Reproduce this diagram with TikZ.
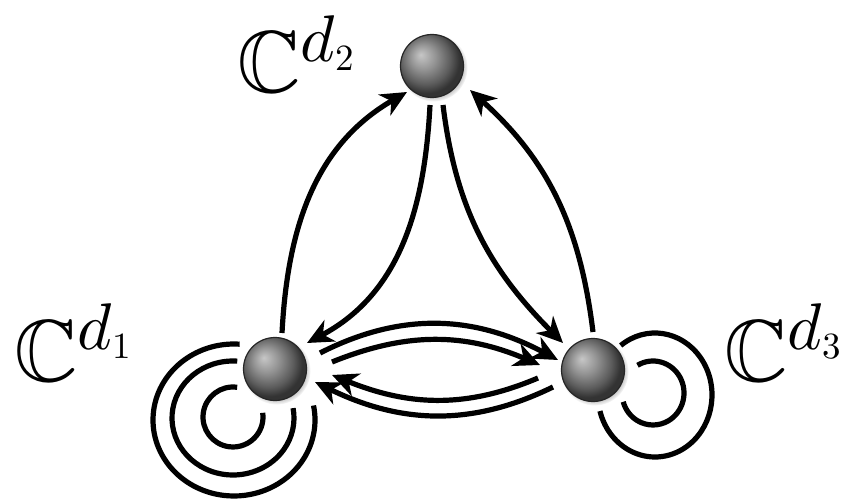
\documentclass[tikz,border=0pt]{standalone}
\usepackage{amssymb}
\usetikzlibrary{arrows.meta,calc,shadows}
\DeclareFontShape{OML}{cmm}{m}{it}{<->cmmi10}{}
\DeclareFontShape{OMS}{cmsy}{m}{n}{<->cmsy10}{}
\DeclareFontShape{OT1}{cmr}{m}{n}{<->cmr10}{}
\DeclareMathSizes{88}{88}{66}{37}
\pgfdeclareradialshading{myball}{\pgfpoint{-9bp}{9bp}}{color(0bp)=(black!22); color(10bp)=(black!42); color(20bp)=(black!64); color(26bp)=(black!80); color(50bp)=(black!80)}
\tikzset{
  ball/.style={circle, minimum size=63pt, inner sep=0pt, shading=myball, draw=black!85, line width=1.2pt,
    circular drop shadow={shadow xshift=1.5pt,shadow yshift=-1.5pt,shadow scale=1.08,opacity=0.45}},
  conn/.style={line width=5.2pt, arrows={-Stealth[length=26pt,width=24pt,inset=8pt]}},
  loopline/.style={line width=5.2pt},
  lab/.style={inner sep=0pt, anchor=base west, font=\fontsize{88}{88}\selectfont}}
\begin{document}
\begin{tikzpicture}[x=1pt,y=1pt]
\useasboundingbox (0,0) rectangle (865,499);
% nodes
\node[ball] (c1) at (275,130) {};
\node[ball] (c2) at (432,433) {};
\node[ball] (c3) at (593,129) {};
% labels
\node[lab] (l1) at (14,118) {$\mathbb{C}^{d_1}$};
\node[lab] (l2) at (237,406) {$\mathbb{C}^{d_2}$};
\node[lab] (l3) at (724,118) {$\mathbb{C}^{d_3}$};
% edges between C1 and C2
\draw[conn] ($(c1)+(7,36)$) to[out=87,in=210] ($(c2)+(-25,-26)$);
\draw[conn] ($(c2)+(-2,-39)$) to[out=267,in=28] ($(c1)+(32,26)$);
% edges between C2 and C3
\draw[conn] ($(c2)+(11,-39)$) to[out=277,in=135] ($(c3)+(-30,27)$);
\draw[conn] ($(c3)+(0,38)$) to[out=97,in=318] ($(c2)+(38,-24)$);
% edges between C1 and C3
\draw[conn] ($(c1)+(45,16)$) to[out=27,in=152] ($(c3)+(-35,10)$);
\draw[conn] ($(c1)+(57,7)$) to[out=22,in=157] ($(c3)+(-53,5)$);
\draw[conn] ($(c3)+(-55,-8)$) to[out=203,in=338] ($(c1)+(57,-6)$);
\draw[conn] ($(c3)+(-40,-17)$) to[out=206,in=334] ($(c1)+(40,-13)$);
% loops at C1
\coordinate (o1a) at ($(c1)+(-42,-48)$);
\coordinate (o1b) at ($(c1)+(-42,-49)$);
\coordinate (o1c) at ($(c1)+(-41,-51)$);
\draw[loopline] ($(o1a)+(82:30 and 30)$) arc[start angle=82, end angle=368, x radius=30, y radius=30];
\draw[loopline] ($(o1b)+(86:61 and 57)$) arc[start angle=86, end angle=370, x radius=61, y radius=57];
\draw[loopline] ($(o1c)+(86:81 and 76)$) arc[start angle=86, end angle=371, x radius=81, y radius=76];
% loops at C3
\coordinate (o3a) at ($(c3)+(60,-23)$);
\coordinate (o3b) at ($(c3)+(62,-25)$);
\draw[loopline] ($(o3a)+(120:31 and 32)$) arc[start angle=120, end angle=-164, x radius=31, y radius=32];
\draw[loopline] ($(o3b)+(127:57 and 62)$) arc[start angle=127, end angle=-165, x radius=57, y radius=62];
\end{tikzpicture}
\end{document}
